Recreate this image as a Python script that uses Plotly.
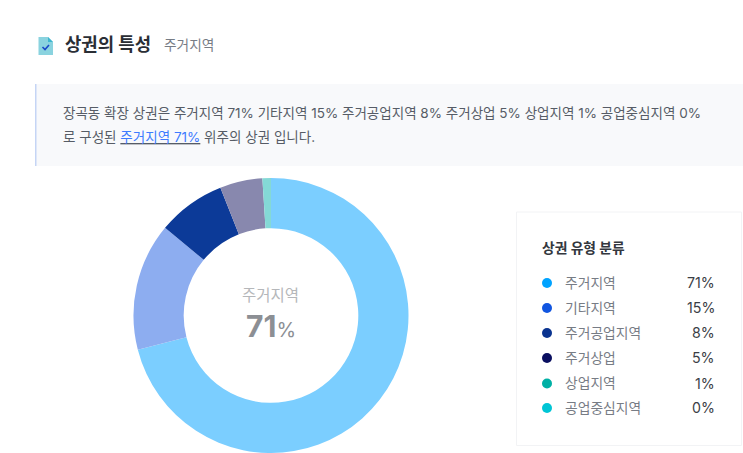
import plotly.graph_objects as go

categories = ["주거지역", "기타지역", "주거공업지역", "주거상업", "상업지역", "공업중심지역"]
values = [71, 15, 8, 5, 1, 0]
pie_colors = ["#7BCEFF", "#8DADF0", "#0C3A98", "#8888AE", "#84D9D6", "#80E2EA"]
legend_colors = ["#00A3FF", "#1155E0", "#0A3490", "#0A0F60", "#00B0A5", "#00C5D5"]

W, H = 743, 453
FONT = "Inter, 'Noto Sans CJK KR', sans-serif"
row_y = [282.5, 307.5, 332.5, 357.5, 383, 407.5]


def px(x):
    return x / W


def py(y):
    return 1 - y / H


def text(x, y, s, size, color, anchor="left"):
    shift = {"left": -2, "right": 2, "center": 0}[anchor]
    return dict(x=px(x), y=py(y), xref="paper", yref="paper", text=s, showarrow=False,
                xanchor=anchor, yanchor="middle", align=anchor, xshift=shift,
                font=dict(family=FONT, size=size, color=color))


def rect(x0, y0, x1, y1, fill, line=None):
    return dict(type="rect", xref="paper", yref="paper", x0=px(x0), y0=py(y0), x1=px(x1), y1=py(y1),
                fillcolor=fill, line=dict(color=line or fill, width=1 if line else 0), layer="below")


def circle(cx, cy, r, fill):
    return dict(type="circle", xref="paper", yref="paper", x0=px(cx - r), x1=px(cx + r),
                y0=py(cy + r), y1=py(cy - r), fillcolor=fill, line=dict(width=0), layer="above")


def path(points, fill=None, line=None):
    d = "M " + " L ".join(f"{px(a):.5f},{py(b):.5f}" for a, b in points)
    if fill:
        d += " Z"
    return dict(type="path", xref="paper", yref="paper", path=d,
                fillcolor=fill or "rgba(0,0,0,0)",
                line=dict(color=line or fill, width=1.6 if line else 0))


fig = go.Figure(go.Pie(
    labels=categories, values=values, sort=False, direction="clockwise", rotation=0,
    hole=0.635, textinfo="none", showlegend=False,
    marker=dict(colors=pie_colors, line=dict(width=0)),
    domain=dict(x=[px(133.5), px(408.5)], y=[0, py(178)]),
))

shapes = [
    rect(35, 84, 743, 166, "#F8F9FB"),
    rect(35, 84, 36.5, 166, "#C5D5F5"),
    dict(type="rect", xref="paper", yref="paper", x0=px(516.5), x1=px(741.5), y0=py(445.5), y1=py(212),
         fillcolor="#FFFFFF", line=dict(color="#F2F3F5", width=1), layer="below"),
    path([(38.5, 37), (48, 37), (53, 42), (53, 55), (38.5, 55)], fill="#8AD3DF"),
    path([(48, 37), (53, 42), (48, 42)], fill="#3FB6CF"),
    path([(42.5, 47), (45, 49.5), (49, 45)], line="#1A48C8"),
]
shapes += [circle(547, y + 0.5, 5, c) for y, c in zip(row_y, legend_colors)]

annotations = [
    text(65, 45, "<b>상권의 특성</b>", 17.8, "#2A2E35"),
    text(164, 45, "주거지역", 13.7, "#777C85"),
    text(63, 113, "장곡동 확장 상권은 주거지역 71% 기타지역 15% 주거공업지역 8% 주거상업 5% 상업지역 1% 공업중심지역 0%", 13.52, "#565C66"),
    text(63, 137, "로 구성된 <u><span style='color:#3D7BFF'>주거지역 71%</span></u> 위주의 상권 입니다.", 13.52, "#565C66"),
    text(270.5, 295, "주거지역", 15.5, "#B5B7BA", "center"),
    text(271, 326, "<b>71</b><span style='font-size:20px'>%</span>", 30, "#8C8F94", "center"),
    text(542, 248, "<b>상권 유형 분류</b>", 13.8, "#33373E"),
]
for y, c, v in zip(row_y, categories, values):
    annotations.append(text(565, y, c, 13.8, "#777C85"))
    annotations.append(text(715, y, f"{v}%", 14.2, "#3A3E45", "right"))

fig.update_layout(width=W, height=H, margin=dict(l=0, r=0, t=0, b=0),
                  paper_bgcolor="#FFFFFF", plot_bgcolor="#FFFFFF",
                  shapes=shapes, annotations=annotations)
fig.write_html("out.html", config=dict(displayModeBar=False),
               post_script="document.body.style.margin='0';document.body.style.overflow='hidden';")
